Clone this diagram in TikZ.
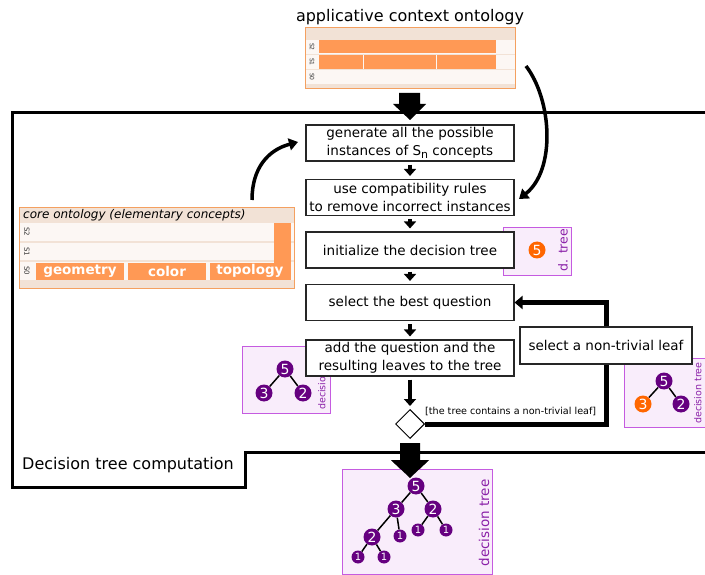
\documentclass[tikz,border=0pt]{standalone}
\usepackage{fontspec}
\setmainfont{DejaVu Sans}
\usetikzlibrary{shapes.geometric,arrows.meta}
\definecolor{obar}{HTML}{FF9955}
\definecolor{oborder}{HTML}{F4A060}
\definecolor{ohead}{HTML}{F2E2D6}
\definecolor{orow}{HTML}{FCF7F4}
\definecolor{pfill}{HTML}{F9EDFB}
\definecolor{pborder}{HTML}{C55BE0}
\definecolor{pnode}{HTML}{660080}
\definecolor{onode}{HTML}{FF6600}
\definecolor{ptext}{HTML}{8A20A8}
\tikzset{
  stepbox/.style={draw=black!85, line width=1.1pt, fill=white, minimum width=208pt, minimum height=36pt, align=center, inner sep=0pt, font=\fontsize{13.5}{18}\selectfont},
  smallarr/.style={line width=3.5pt, -{Triangle[width=12pt,length=7pt]}, shorten <=3pt, shorten >=3pt},
  bigcurve/.style={line width=3.5pt, -{Triangle[width=12pt,length=9pt]}},
  thickline/.style={line width=5pt},
  tn/.style={circle, fill=pnode, text=white, inner sep=0pt, minimum size=17pt, font=\fontsize{14}{14}\selectfont},
  tno/.style={tn, fill=onode},
  tnone/.style={tn, minimum size=13pt, font=\fontsize{10}{10}\selectfont},
  tedge/.style={line width=1.5pt, black},
  pbox/.style={draw=pborder, fill=pfill, line width=1pt},
  ptxt/.style={text=ptext, rotate=90, inner sep=0pt},
  bar/.style={fill=obar, draw=none},
  row/.style={fill=orow, draw=none},
  slab/.style={rotate=-90, font=\fontsize{6}{6}\selectfont, inner sep=0pt, text=black!80},
  ctxt/.style={text=white, font=\bfseries\fontsize{13.5}{13.5}\selectfont, inner sep=0pt},
}
\begin{document}
\begin{tikzpicture}[x=1pt,y=-1pt]
\useasboundingbox (0,0) rectangle (705,575);
\clip (0,0) rectangle (705,575);
\fill[white] (0,0) rectangle (705,575);

% outer frame
\draw[line width=3pt, line join=miter] (712,113) -- (12,113) -- (12,487) -- (245,487) -- (245,452) -- (712,452);
\node[anchor=west, inner sep=0pt, font=\fontsize{16}{16}\selectfont] (frametitle) at (22,465) {Decision tree computation};

% applicative context ontology
\node[font=\fontsize{16}{16}\selectfont, inner sep=0pt] (apptitle) at (410,17) {applicative context ontology};
\fill[ohead] (305,28) rectangle (515,89);
\fill[row] (305,40) rectangle (515,54);
\fill[row] (305,55) rectangle (515,69);
\fill[row] (305,70) rectangle (515,84);
\fill[bar] (319,40) rectangle (496,53);
\fill[bar] (319,55) rectangle (363,69);
\fill[bar] (364,55) rectangle (436,69);
\fill[bar] (437,55) rectangle (496,69);
\node[slab] (as2) at (312,47) {S2};
\node[slab] (as1) at (312,62) {S1};
\node[slab] (as0) at (312,77) {S0};
\draw[oborder, line width=1pt] (305,28) rectangle (515,89);

% big arrows
\fill[black] (399,93) -- (420,93) -- (420,104) -- (426,104) -- (410,120) -- (393,104) -- (399,104) -- cycle;
\fill[black] (400,443) -- (420,443) -- (420,460) -- (429,460) -- (410,478) -- (391,460) -- (400,460) -- cycle;

% curved arrows
\coordinate (rcstart) at (526,66);
\coordinate (rcend) at (519,199);
\draw[bigcurve] (rcstart) .. controls (552,100) and (556,170) .. (rcend);
\coordinate (lcstart) at (252,200);
\coordinate (lcend) at (298,142);
\draw[bigcurve] (lcstart) .. controls (252,168) and (268,150) .. (lcend);

% left small tree box
\draw[pbox] (242,346) rectangle (330,413);
\node[tn] (l5) at (285,369) {5};
\node[tn] (l3) at (264,393) {3};
\node[tn] (l2) at (303,393) {2};
\draw[tedge] (l5) -- (l3);
\draw[tedge] (l5) -- (l2);
\node[ptxt, anchor=north west, font=\fontsize{9.5}{9.5}\selectfont] (ldec) at (318,410) {decision tree};

% d. tree box
\draw[pbox] (503,228) rectangle (571,275);
\node[tno] (d5) at (537,250) {5};
\node[ptxt, font=\fontsize{12.5}{12.5}\selectfont] (dtree) at (563,250) {d. tree};

% right small tree box
\draw[pbox] (624,358) rectangle (712,427);
\node[tn] (r5) at (664,381) {5};
\node[tno] (r3) at (643,404) {3};
\node[tn] (r2) at (681,404) {2};
\draw[tedge] (r5) -- (r3);
\draw[tedge] (r5) -- (r2);
\node[ptxt, anchor=north west, font=\fontsize{9.5}{9.5}\selectfont] (rdec) at (694,424) {decision tree};

% step boxes
\node[stepbox] (b1) at (410,143) {generate all the possible\\instances of S\raisebox{-0.35ex}{\fontsize{11}{11}\selectfont n} concepts};
\node[stepbox] (b2) at (410,197.5) {use compatibility rules\\to remove incorrect instances};
\node[stepbox] (b3) at (410,250) {initialize the decision tree};
\node[stepbox] (b4) at (410,302.5) {select the best question};
\node[stepbox] (b5) at (410,358) {add the question and the\\resulting leaves to the tree};
\node[stepbox, minimum width=172pt, minimum height=37pt] (leaf) at (606,345.5) {select a non-trivial leaf};
\node[diamond, draw=black, line width=1pt, fill=white, minimum width=29pt, minimum height=29pt, inner sep=0pt] (dia) at (410,424) {};

\draw[smallarr] (b1) -- (b2);
\draw[smallarr] (b2) -- (b3);
\draw[smallarr] (b3) -- (b4);
\draw[smallarr] (b4) -- (b5);
\draw[smallarr] (b5) -- (dia);

\draw[thickline, line join=miter] (dia.east) -| (leaf.south);
\draw[thickline, line join=miter, -{Triangle[width=13pt,length=8pt]}] (leaf.north) |- (b4.east);
\node[anchor=west, inner sep=0pt, font=\fontsize{9.6}{9.6}\selectfont] (cond) at (425,411) {[the tree contains a non-trivial leaf]};

% core ontology
\fill[ohead] (19,208) rectangle (294,288);
\fill[row] (19,223) rectangle (294,241);
\fill[row] (19,243) rectangle (294,260);
\fill[row] (19,262) rectangle (294,280);
\fill[bar] (274,223) rectangle (291,280);
\fill[bar] (36,263) rectangle (124,280);
\fill[bar] (128,263) rectangle (206,280);
\fill[bar] (210,263) rectangle (291,280);
\node[slab, font=\fontsize{7}{7}\selectfont] (cs2) at (27,232) {S2};
\node[slab, font=\fontsize{7}{7}\selectfont] (cs1) at (27,251.5) {S1};
\node[slab, font=\fontsize{7}{7}\selectfont] (cs0) at (27,271) {S0};
\node[ctxt] (geo) at (80,271) {geometry};
\node[ctxt] (col) at (167,271) {color};
\node[ctxt] (topo) at (250,271) {topology};
\node[anchor=west, inner sep=0pt, font=\itshape\fontsize{12}{12}\selectfont] (corettl) at (23,215.5) {core ontology (elementary concepts)};
\draw[oborder, line width=1pt] (19,208) rectangle (294,288);

% final decision tree
\draw[pbox] (342,469) rectangle (492,574);
\node[tn] (f5) at (416,486) {5};
\node[tn] (f3) at (396,509) {3};
\node[tn] (f2) at (433,509) {2};
\node[tnone] (f2a) at (418,530) {1};
\node[tnone] (f2b) at (446,530) {1};
\node[tn] (f32) at (372,537) {2};
\node[tnone] (f31) at (400,536) {1};
\node[tnone] (fa) at (358,557) {1};
\node[tnone] (fb) at (384,557) {1};
\draw[tedge] (f5) -- (f3);
\draw[tedge] (f5) -- (f2);
\draw[tedge] (f2) -- (f2a);
\draw[tedge] (f2) -- (f2b);
\draw[tedge] (f3) -- (f32);
\draw[tedge] (f3) -- (f31);
\draw[tedge] (f32) -- (fa);
\draw[tedge] (f32) -- (fb);
\node[ptxt, font=\fontsize{13.5}{13.5}\selectfont] (fdec) at (484,523) {decision tree};
\fill[black] (400,460) -- (420,460) -- (429,460) -- (410,478) -- (391,460) -- cycle;
\end{tikzpicture}
\end{document}
